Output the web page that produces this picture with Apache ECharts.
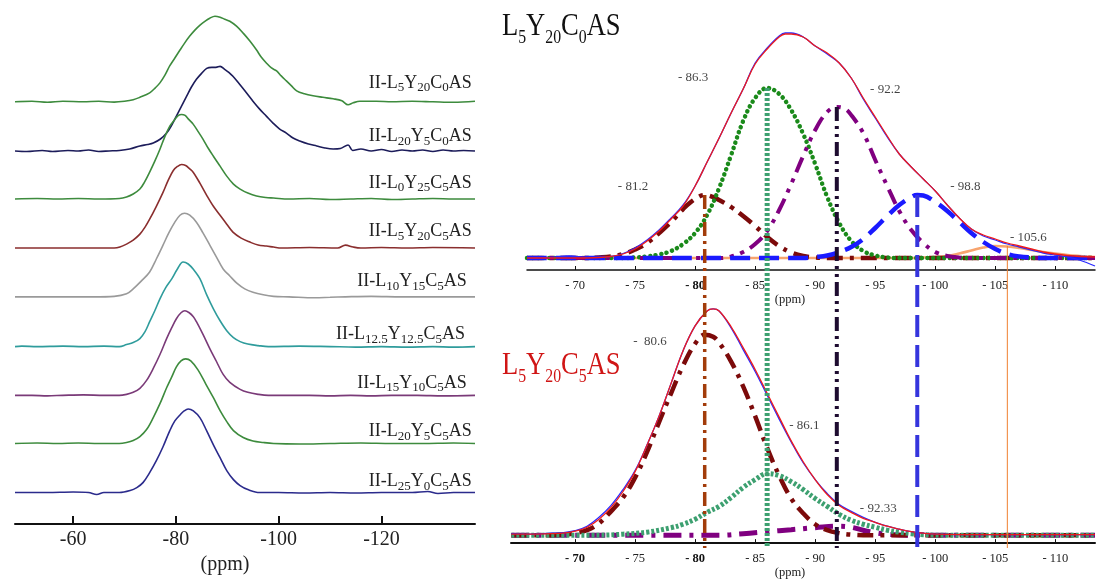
<!DOCTYPE html>
<html><head><meta charset="utf-8">
<script src="https://cdn.jsdelivr.net/npm/echarts@6/dist/echarts.min.js"></script>
<style>html,body{margin:0;padding:0;background:#fff}#c{width:1097px;height:580px}</style>
</head><body><div id="c"></div>
<script>
// ================= DATA =================
// Left panel: stacked 29Si spectra, [ppm, relative intensity]
const leftNames = ['II-L5Y20C0AS','II-L20Y5C0AS','II-L0Y25C5AS','II-L5Y20C5AS','II-L10Y15C5AS','II-L12.5Y12.5C5AS','II-L15Y10C5AS','II-L20Y5C5AS','II-L25Y0C5AS'];
const specL5Y20C0 = [[-48.7,0],[-52,0.5],[-55,-0.5],[-58,0.5],[-62,0],[-65,0.5],[-68,-0.3],[-70,0.5],[-71.7,2],[-73,4.5],[-74.9,9],[-76,14],[-76.9,19],[-77.9,27],[-78.8,36],[-79.8,44],[-80.8,52],[-81.7,59],[-82.7,66],[-83.7,72],[-84.7,77],[-85.7,81],[-86.6,84],[-87.6,86],[-88.6,85],[-89.5,83],[-90.5,81],[-91.8,76],[-93.1,69],[-94.4,61],[-95.7,52],[-96.6,45],[-97.6,39],[-98.6,34],[-99.6,31],[-100.5,26],[-101.5,21],[-102.5,16],[-103.5,11],[-105,8],[-106.7,6],[-108.6,4.5],[-110.6,3],[-112.3,1],[-113.5,-3],[-114.5,-1],[-115.8,0.5],[-119,0.5],[-122,0],[-126,0.5],[-130,0],[-134,-0.5],[-138.2,0.5]];
const specL20Y5C0 = [[-48.7,0],[-51,-0.5],[-54,0.5],[-56,-0.5],[-59,0.5],[-61,0],[-63,1],[-65,-0.5],[-67,0],[-69,0.5],[-71,2],[-73,5],[-74.5,6.5],[-75.6,8],[-77,12],[-78.2,18],[-79.2,26],[-80.1,35],[-81.1,45],[-82.1,55],[-83,64],[-84,72],[-85,78],[-86,83],[-87,84],[-87.8,84],[-88.6,85],[-89.5,82],[-90.3,79],[-91.1,75],[-92.4,67],[-93.8,58],[-95,50],[-96.3,42],[-97.6,35],[-98.9,28],[-100.2,22],[-101.5,18],[-102.8,13],[-104.1,10],[-105.8,7],[-107.4,5],[-109,3],[-110.6,2],[-112,2.5],[-113.5,6],[-114.4,0.5],[-116,2],[-118,0],[-120,1.5],[-122,-0.5],[-124,1],[-126,0],[-128,1],[-130,-0.5],[-132,1],[-134,0],[-136,0.5],[-138.2,0]];
const specL0Y25C5 = [[-48.7,0],[-53,0.5],[-57,0],[-61,0.5],[-65,0],[-69,0.5],[-70.4,2],[-71.7,5],[-73,10],[-73.9,17],[-74.9,27],[-75.9,38],[-76.9,50],[-77.8,62],[-78.8,73],[-79.8,80],[-80.5,84],[-81.1,85],[-81.8,84],[-82.5,80],[-83.4,75],[-84.3,68],[-85.3,60],[-86.3,51],[-87.3,43],[-88.6,33],[-89.9,23],[-91.2,15],[-92.5,10],[-94,6],[-95.7,3],[-97.5,1.5],[-99,1],[-102,0],[-106,0.5],[-110,-0.5],[-114,0],[-118,0.5],[-122,-0.5],[-126,0],[-130,0.5],[-134,0],[-138.2,0]];
const specL5Y20C5 = [[-48.7,0],[-55,0],[-62,0],[-68,0],[-69.1,1],[-70.4,4],[-71.7,8],[-73,14],[-74,21],[-74.9,29],[-76.2,42],[-77.5,56],[-78.5,68],[-79.5,78],[-80.3,82],[-81.1,84],[-81.9,83],[-82.6,80],[-83.4,76],[-84.7,65],[-86,53],[-87.3,42],[-88.6,33],[-89.9,24],[-91.1,16],[-92.7,10],[-94.4,6],[-96,3],[-97.6,2],[-99,1],[-100.5,0],[-106,0.5],[-111.5,0],[-113,3],[-114.5,1],[-116,0],[-120,0.5],[-125,0],[-130,0.5],[-138.2,0]];
const specL10Y15C5 = [[-48.7,0],[-56,0],[-64,0],[-68,0.5],[-70.4,3],[-71.7,8],[-73.3,16],[-74.9,25],[-76.2,38],[-77.5,52],[-78.6,64],[-79.8,75],[-80.8,82],[-81.7,84],[-82.7,82],[-84,75],[-85.3,64],[-86.6,52],[-87.9,40],[-89.2,28],[-90.5,21],[-91.8,14],[-93.4,8],[-95,4.5],[-97,2],[-99,0.5],[-102,0],[-107,-1],[-110,-0.5],[-113,0],[-118,0.5],[-124,0],[-130,0],[-138.2,0]];
const specL125Y125C5 = [[-48.7,0],[-50,0.5],[-53,0],[-58,0.5],[-62,0],[-66,0.5],[-69,0],[-70.4,2],[-71.7,4],[-73,8],[-74,15],[-74.9,25],[-75.9,36],[-76.9,48],[-78,59],[-79.2,68],[-80.3,78],[-81.4,85],[-82.4,83],[-83.5,77],[-84.7,68],[-86,52],[-87.3,38],[-88.6,26],[-89.9,16],[-91.2,9],[-92.5,5],[-94,2.5],[-96,1],[-98,0],[-104,0.5],[-110,0],[-115,-0.5],[-120,0],[-125,-0.5],[-130,0],[-134,-0.5],[-138.2,0]];
const specL15Y10C5 = [[-48.7,0],[-52,0],[-55,-0.5],[-58,0],[-62,0.5],[-66,0],[-69,0],[-70.4,1],[-71.7,3],[-73,7],[-74.3,15],[-75.6,27],[-76.9,41],[-78.2,57],[-79.2,68],[-80.1,77],[-81,83],[-81.75,85],[-82.6,83],[-83.4,79],[-84,74],[-85.3,61],[-86.6,47],[-87.9,34],[-89.2,21],[-90.5,13],[-92.5,6],[-94,3],[-96,1],[-98,0],[-106,0],[-110,-0.5],[-114,0],[-118,-0.5],[-122,0],[-127,0],[-132,-0.5],[-138.2,0]];
const specL20Y5C5 = [[-48.7,0],[-53,0.5],[-57,0],[-61,0.5],[-65,0],[-69,0],[-70.4,1],[-71.7,3],[-73,7],[-74.3,14],[-75.6,26],[-76.9,40],[-78.2,56],[-79.2,67],[-80.1,77],[-81,83],[-81.9,85],[-82.9,83],[-84.3,74],[-85.8,60],[-87.3,46],[-88.6,33],[-89.9,22],[-91.2,13],[-93.1,6],[-95,2.5],[-97,1],[-99,0],[-104,-0.5],[-110,0],[-116,0.5],[-122,0],[-128,0],[-134,0.5],[-138.2,0]];
const specL25Y0C5 = [[-48.7,0],[-55,0],[-60,0.5],[-63,0],[-64.6,-2],[-66,0],[-69,0],[-71.1,2],[-72.4,5],[-73.6,10],[-74.9,20],[-76.2,32],[-77.5,46],[-78.8,62],[-79.8,72],[-80.8,78],[-81.6,82],[-82.4,84],[-83.4,82],[-84.7,75],[-86,62],[-87.3,48],[-88.6,35],[-89.9,22],[-91.2,13],[-92.5,7],[-94,3],[-96.3,0],[-100,0],[-105,-0.5],[-110,0],[-115,-0.5],[-120,0],[-126,0],[-129,1],[-131,-1],[-134,0],[-138.2,0]];
const leftSpectra = [specL5Y20C0,specL20Y5C0,specL0Y25C5,specL5Y20C5,specL10Y15C5,specL125Y125C5,specL15Y10C5,specL20Y5C5,specL25Y0C5];
const leftTicks = [-120,-100,-80,-60];

// Right panels: deconvolution (ppm, intensity)
const rightTicks = [-110,-105,-100,-95,-90,-85,-80,-75,-70];
const topTitle = 'L5Y20C0AS';
const botTitle = 'L5Y20C5AS';
const topEnvExp = [[-66,0],[-68,0.5],[-69.5,2],[-71,0.5],[-72,0.5],[-73,1.5],[-74,4.5],[-75,10],[-76,18],[-77,28],[-78,40],[-79,53],[-80,72],[-81,96],[-82,120],[-83,145],[-84,169],[-85,195],[-86,210],[-87,222],[-87.5,225],[-88,225],[-89,221],[-90,212],[-91,204],[-92,195],[-93,180],[-94,159],[-95,140],[-96,121],[-97,104],[-98,91],[-99,79],[-100,67],[-101,53],[-102,40],[-103,29],[-104,22],[-105,18],[-106,14],[-107,11],[-108,8],[-109,5],[-110,3],[-111,1],[-112,-2],[-113.3,-8]];
const topEnvFit = [[-66,0],[-70,0],[-72,0.5],[-73,1.5],[-74,4],[-75,9],[-76,17],[-77,27],[-78,39],[-79,52],[-80,72],[-81,96],[-82,120],[-83,145],[-84,169],[-85,194],[-86,209],[-87,221],[-87.5,224],[-88,224],[-89,221],[-90,212],[-91,205],[-92,195],[-93,180],[-94,160],[-95,141],[-96,122],[-97,104],[-98,91],[-99,79],[-100,67],[-101,53],[-102,40],[-103,29],[-104,23],[-105,19],[-106,15],[-107,12],[-108,9],[-109,6],[-110,4],[-111,2.5],[-112,1.5],[-113.3,1]];
const topQ81 = [[-66,0],[-71,0],[-72,0.5],[-73,1.5],[-74,4],[-75,8.5],[-76,15],[-77,25],[-78,36],[-79,49],[-80,59],[-80.8,63],[-81.5,61],[-82,58],[-83,51],[-84,42],[-85,32],[-86,21],[-87,12],[-88,5.5],[-89,2],[-90,0.5],[-91,0],[-113.3,0]];
const topQ86 = [[-66,0],[-74,0],[-75,0.5],[-76,1.5],[-77,3.5],[-78,7],[-79,14],[-80,25],[-81,43],[-82,70],[-83,103],[-84,137],[-85,160],[-86,170],[-87,164],[-88,148],[-89,124],[-90,94],[-91,61],[-92,35],[-93,17],[-94,7],[-95,2.5],[-96,0.5],[-97,0],[-113.3,0]];
const topQ92 = [[-66,0],[-82,0],[-83,1.5],[-84,6],[-85,14],[-86,27],[-87,48],[-88,74],[-89,102],[-90,128],[-91,146],[-91.8,151],[-92.5,149],[-93,143],[-94,125],[-95,98],[-96,72],[-97,47],[-98,28],[-99,15],[-100,6],[-101,2],[-102,0.5],[-103,0],[-113.3,0]];
const topQ98 = [[-66,0],[-89,0],[-90,1],[-91,2.5],[-92,6],[-93,11],[-94,19],[-95,30],[-96,42],[-97,53],[-98,61],[-98.5,63],[-99,62.5],[-100,56],[-101,47],[-102,36],[-103,25],[-104,16],[-105,9],[-106,4],[-107,1.5],[-108,0.5],[-109,0],[-113.3,0]];
const topQ105 = [[-66,0],[-98,0],[-99,0.5],[-100,1],[-101,2],[-102,4.5],[-103,7.5],[-104,10.5],[-105,12],[-106,11.5],[-107,10],[-108,8],[-109,6],[-110,4.5],[-111,3],[-112,2],[-113.3,1]];
const topPeakText = ['- 81.2','- 86.3','- 92.2','- 98.8','- 105.6'];
const topPeakPos = [-80.8,-86.0,-91.8,-98.5,-106.0];
const topPeakHeight = [63,170,151,63,12];

const botEnvExp = [[-64.7,1.5],[-66,1],[-68,2],[-69,2.5],[-70,4.5],[-71,9],[-72,18],[-73,30],[-74,46],[-75,65],[-76,91],[-77,120],[-78,153],[-79,186],[-80,211],[-81,226],[-81.5,228],[-82,226],[-83,209],[-84,187],[-85,165],[-86,141],[-87,117],[-88,94],[-89,73],[-90,56],[-91,42],[-92,31],[-93,24],[-94,18],[-95,13],[-96,9],[-97,6],[-98,3.5],[-99,2],[-100,1],[-102,0.5],[-113.3,0.5]];
const botEnvFit = [[-64.7,1],[-66,1],[-68,1.5],[-69,2],[-70,4],[-71,8],[-72,16],[-73,28],[-74,44],[-75,64],[-76,91],[-77,120],[-78,153],[-79,186],[-80,211],[-81,226],[-81.5,228],[-82,226],[-83,210],[-84,189],[-85,167],[-86,143],[-87,119],[-88,95],[-89,74],[-90,56],[-91,41],[-92,30],[-93,23],[-94,17],[-95,13],[-96,9],[-97,6],[-98,3.5],[-99,2],[-100,1],[-102,0.5],[-113.3,0.5]];
const botQ80 = [[-64.7,0],[-68,0],[-69,0.5],[-70,2],[-71,5],[-72,12],[-73,24],[-74,38],[-75,58],[-76,84],[-77,114],[-78,143],[-79,171],[-80,193],[-80.8,202],[-81.5,200],[-82,194],[-83,175],[-84,150],[-85,120],[-86,88],[-87,60],[-88,37],[-89,22],[-90,11],[-91,5],[-92,2],[-93,0.5],[-94,0],[-113.3,0]];
const botQ86 = [[-64.7,0],[-72,0],[-74,1],[-76,3],[-78,7.5],[-79,11],[-80,16],[-81,23],[-82,29],[-83,38],[-84,48],[-85,56],[-86,62],[-87,60],[-88,54],[-89,46],[-90,37],[-91,29],[-92,21],[-93,15],[-94,11],[-95,8],[-96,5],[-97,3],[-98,1.5],[-99,0.5],[-100,0],[-113.3,0]];
const botQ92 = [[-64.7,0],[-82,0],[-84,1.5],[-86,3.5],[-88,5.5],[-90,7.5],[-92,9],[-93,8],[-94,5],[-95,2.5],[-96,1],[-98,0],[-113.3,0]];
const botPeakText = ['-  80.6','- 86.1','- 92.33'];

// ================= LAYOUT / STYLE =================
const serif = '"Liberation Serif","DejaVu Serif","Times New Roman",serif';
const leftColors = ['#3d8b3d','#1c1c5a','#3d8b3d','#8a2e2e','#9a9a9a','#2f9c9c','#7a3a78','#3d8b3d','#2b2b8c'];
const leftBaselinePx = [102.3,151.7,200,249.3,298.3,348.3,397.3,445.7,495];
const leftAxisPx = 526.7;
const leftLabelRight = [471.7,471.7,471.7,471.7,466.7,465,466.7,471.7,471.7];
const leftLabelBase = [91.7,145,191.7,240,290,343.3,391.7,440,490];
const topLabelAnchor = [[-74.83,71.6],[-79.83,180],[-95.83,168.3],[-102.5,71.6],[-107.75,20]];
const botLabelAnchor = [[-76.25,195],[-89.1,110.7],[-95.25,26.7]];

function toRich(name, n, s){
  return name.replace(/([^\d.]+)|(\d+(?:\.\d+)?)/g, (m, a, d) => a ? '{' + n + '|' + a + '}' : '{' + s + '|' + d + '}');
}

const chart = echarts.init(document.getElementById('c'), null, {renderer:'canvas'});

const titles = leftNames.map((nm, i) => ({
  text: toRich(nm, 'n', 's'),
  right: 1097 - leftLabelRight[i],
  top: leftLabelBase[i] - 17.8,
  padding: 0,
  textStyle: {
    rich: {
      n: {fontFamily: serif, fontSize: 18, lineHeight: 18, color: '#222', fontWeight: 'normal'},
      s: {fontFamily: serif, fontSize: 13, lineHeight: 13, padding: [10,0,0,0], color: '#222', fontWeight: 'normal'}
    }
  }
}));

function bigTitle(text, y, color){
  return {
    type: 'text', x: 502, y: y, scaleX: 0.83, z: 100,
    style: {
      text: toRich(text, 'n', 's'),
      rich: {
        n: {fontFamily: serif, fontSize: 32, lineHeight: 32, fill: color},
        s: {fontFamily: serif, fontSize: 19, lineHeight: 19, padding: [23,0,0,0], fill: color}
      }
    }
  };
}

function rightAxis(grid, min, bold, nameGap, namePad){
  return {
    gridIndex: grid, type: 'value', min: min, max: grid === 1 ? -66 : -64.67, inverse: true,
    axisLine: {show: true, onZero: false, lineStyle: {color: '#111', width: grid === 1 ? 1.5 : 2}},
    axisTick: {show: true, inside: true, length: 4, customValues: rightTicks, lineStyle: {color: '#111', width: 1}},
    axisLabel: {show: true, customValues: rightTicks, margin: 9, fontFamily: serif, fontSize: 12.5, color: '#222',
      formatter: v => { const t = '- ' + Math.abs(v); return bold.includes(v) ? '{b|' + t + '}' : t; },
      rich: {b: {fontFamily: serif, fontSize: 12.5, fontWeight: 'bold', color: '#111'}}},
    splitLine: {show: false},
    name: '(ppm)', nameLocation: 'middle', nameGap: nameGap,
    nameTextStyle: {fontFamily: serif, fontSize: 12.5, color: '#222', padding: namePad}
  };
}

const series = [];
leftSpectra.forEach((spec, i) => {
  const off = leftAxisPx - leftBaselinePx[i];
  series.push({
    type: 'line', xAxisIndex: 0, yAxisIndex: 0, showSymbol: false, smooth: 0.35,
    data: spec.map(p => [p[0], p[1] + off]),
    lineStyle: {color: leftColors[i], width: 1.6}, silent: true
  });
});

function comp(data, xi, yi, color, width, type, cap, z){
  return {type: 'line', xAxisIndex: xi, yAxisIndex: yi, showSymbol: false, smooth: 0.4, data: data,
    lineStyle: {color: color, width: width, type: type, cap: cap || 'butt'}, z: z || 2, silent: true};
}
// top panel
series.push(comp(topQ105, 1, 1, '#f7a46e', 2.6, 'solid'));
series.push(comp(topQ81, 1, 1, '#7c0a0a', 4.5, [16,7,4,7]));
series.push(comp(topQ86, 1, 1, '#1a8a1a', 4.5, [0.1,5.5], 'round'));
series.push(comp(topQ92, 1, 1, '#800080', 4, [16,7,4,7,4,7]));
series.push(comp(topQ98, 1, 1, '#1a1aff', 4.5, [20,9]));
series.push(comp(topEnvExp, 1, 1, '#2a2aff', 1.3, 'solid'));
series.push(comp(topEnvFit, 1, 1, '#ee1c1c', 1.3, 'solid'));
// bottom panel
series.push(comp(botQ92, 2, 2, '#800080', 5, [18,8,4,8]));
series.push(comp(botQ80, 2, 2, '#7c0a0a', 4.5, [16,7,4,7]));
series.push(comp(botQ86, 2, 2, '#3da070', 5, [3,2]));
series.push(comp(botEnvExp, 2, 2, '#2a2aff', 1.3, 'solid'));
series.push(comp(botEnvFit, 2, 2, '#ee1c1c', 1.3, 'solid'));

// peak labels
function labels(xi, texts, anchors){
  return {type: 'scatter', xAxisIndex: xi, yAxisIndex: xi, symbolSize: 1, silent: true, z: 10,
    itemStyle: {color: 'rgba(0,0,0,0)'},
    data: texts.map((t, i) => ({name: t, value: anchors[i]})),
    label: {show: true, position: 'inside', formatter: '{b}', fontFamily: serif, fontSize: 13, color: '#111'}};
}
series.push(labels(1, topPeakText, topLabelAnchor));
series.push(labels(2, botPeakText, botLabelAnchor));

// vertical drop lines through both panels
const vStyles = [
  {color: '#a23c0a', width: 3.5, type: [14,5,3,5]},
  {color: '#3da070', width: 5, type: [3,2]},
  {color: '#1e0c30', width: 4, type: [14,5,3,5,3,5]},
  {color: '#3535dd', width: 4, type: [22,8]},
  {color: '#f08030', width: 1, type: 'solid'}
];
const vBottom = -290;
topPeakPos.forEach((x, i) => {
  series.push({type: 'line', xAxisIndex: 3, yAxisIndex: 3, showSymbol: false, silent: true, z: 6,
    data: [[x, topPeakHeight[i]], [x, vBottom]], lineStyle: vStyles[i]});
});

const option = {
  animation: false,
  backgroundColor: '#fff',
  title: titles,
  graphic: [bigTitle(topTitle, 10.8, '#111'), bigTitle(botTitle, 349.5, '#d01515')],
  grid: [
    {left: 15, right: 622, top: 0, bottom: 580 - leftAxisPx},
    {left: 527, right: 2, top: 30, bottom: 310},
    {left: 511, right: 2, top: 305, bottom: 35},
    {left: 511, right: 2, top: 30, bottom: 32}
  ],
  xAxis: [
    {gridIndex: 0, type: 'value', min: -138.2, max: -48.7, inverse: true,
      axisLine: {show: true, onZero: false, lineStyle: {color: '#111', width: 2}},
      axisTick: {show: true, inside: true, length: 8, customValues: leftTicks, lineStyle: {color: '#111', width: 2}},
      axisLabel: {show: true, customValues: leftTicks, margin: 6, fontFamily: serif, fontSize: 20, color: '#222'},
      splitLine: {show: false},
      name: '(ppm)', nameLocation: 'middle', nameGap: 26,
      nameTextStyle: {fontFamily: serif, fontSize: 20, color: '#222', padding: [0,40,0,0]}},
    rightAxis(1, -113.3, [-80], 20, [0,42,0,0]),
    rightAxis(2, -113.3, [-70,-80], 21, [0,26,0,0]),
    {gridIndex: 3, type: 'value', min: -113.3, max: -64.67, inverse: true, show: false}
  ],
  yAxis: [
    {gridIndex: 0, type: 'value', min: 0, max: leftAxisPx, show: false},
    {gridIndex: 1, type: 'value', min: -12, max: 228, show: false},
    {gridIndex: 2, type: 'value', min: -8, max: 232, show: false},
    {gridIndex: 3, type: 'value', min: vBottom, max: 228, show: false}
  ],
  series: series
};
chart.setOption(option);
</script></body></html>
